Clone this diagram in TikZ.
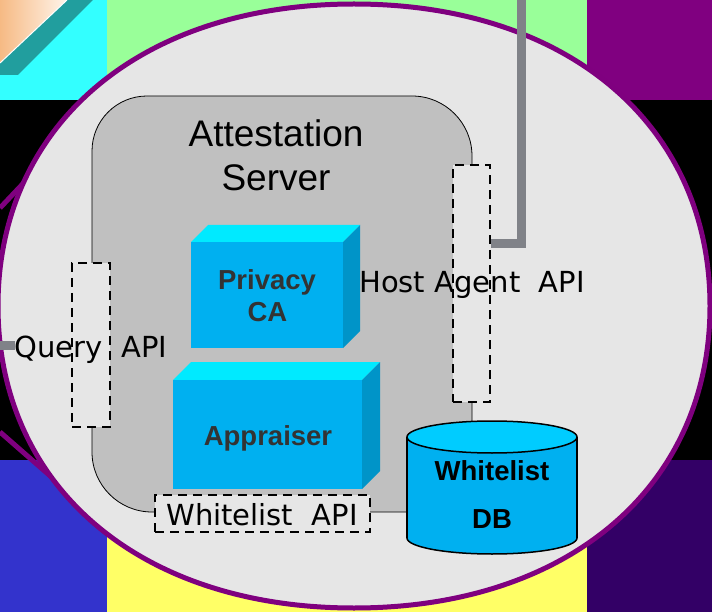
\documentclass[tikz,border=0pt]{standalone}
\usepackage{fontspec}
\setmainfont{Liberation Sans}
\newfontfamily\apifont{DejaVu Sans}
\definecolor{tilecyan}{HTML}{33FFFF}
\definecolor{tilegreen}{HTML}{99FF99}
\definecolor{tilepurple}{HTML}{800080}
\definecolor{tileblue}{HTML}{3333CC}
\definecolor{tileyellow}{HTML}{FFFF66}
\definecolor{tiledark}{HTML}{330066}
\definecolor{peach}{HTML}{F6BA84}
\definecolor{peachlight}{HTML}{FFF4EA}
\definecolor{stripe}{HTML}{219E9E}
\definecolor{ringline}{HTML}{7F007F}
\definecolor{ringfill}{HTML}{E6E6E6}
\definecolor{serverfill}{HTML}{C0C0C0}
\definecolor{cubetop}{HTML}{00EAFF}
\definecolor{cubefront}{HTML}{00B0F0}
\definecolor{cubeside}{HTML}{0094C8}
\definecolor{dbtop}{HTML}{00CCFF}
\definecolor{linkgray}{HTML}{808288}
\definecolor{cubetext}{HTML}{333333}
\begin{document}
\begin{tikzpicture}[x=1pt,y=-1pt,
  apibox/.style={draw=black, line width=1.8pt, dash pattern=on 9pt off 6pt,
    fill=ringfill, inner sep=0pt},
  apilabel/.style={inner sep=0pt, anchor=base, font=\apifont\fontsize{29}{34}\selectfont},
  cubelabel/.style={inner sep=0pt, anchor=base, text=cubetext,
    font=\bfseries\fontsize{27.5}{32}\selectfont},
  frontface/.style={fill=cubefront, inner sep=0pt},
  link/.style={draw=linkgray, line width=9pt},
  titlefont/.style={inner sep=0pt, anchor=base, font=\fontsize{37}{44}\selectfont},
  dblabel/.style={inner sep=0pt, anchor=base, font=\bfseries\fontsize{27.5}{32}\selectfont}]
\useasboundingbox (0,0) rectangle (712,612);

% background tiles
\fill[black] (0,0) rectangle (712,612);
\fill[tilecyan] (0,0) rectangle (107,100);
\fill[tilegreen] (107,0) rectangle (587,100);
\fill[tilepurple] (587,0) rectangle (712,100);
\fill[tileblue] (0,460) rectangle (107,612);
\fill[tileyellow] (107,460) rectangle (587,612);
\fill[tiledark] (587,460) rectangle (712,612);

% corner ornament
\shade[left color=peach, right color=peachlight] (0,0) -- (67,0) -- (0,63) -- cycle;
\fill[stripe] (67,0) -- (93,0) -- (18,75) -- (0,75) -- (0,63) -- cycle;
\draw[white, line width=1pt] (67,0) -- (0,63);

% second outline, visible only at the left
\draw[ringline, line width=5pt] (0,208) -- (34,172);
\draw[ringline, line width=5pt] (0,432) -- (80,502);

% the large oval
\draw[ringline, line width=5pt, fill=ringfill]
  (710,306) .. controls (710,124.8) and (567.6,4) .. (354,4)
            .. controls (140.4,4) and (-2,124.8) .. (-2,306)
            .. controls (-2,487.2) and (140.4,608) .. (354,608)
            .. controls (567.6,608) and (710,487.2) .. (710,306) -- cycle;

% attestation server region
\draw[black, line width=0.8pt, fill=serverfill]
  (92,151) .. controls (92,120.6) and (116.6,96) .. (147,96)
  -- (412,96) .. controls (445.1,96) and (472,122.9) .. (472,156)
  -- (472,512) -- (152,512)
  .. controls (118.9,512) and (92,485.1) .. (92,452) -- cycle;

\node[titlefont] (title1) at (276,147) {Attestation};
\node[titlefont] (title2) at (276,191) {Server};

% Privacy CA block
\fill[cubetop] (191,242) -- (208,225) -- (360,225) -- (343,242) -- cycle;
\fill[cubeside] (343,242) -- (360,225) -- (360,331) -- (343,348) -- cycle;
\node[frontface, minimum width=152pt, minimum height=106pt] (privacy) at (267,295) {};
\node[cubelabel] (privacy1) at (267,290) {Privacy};
\node[cubelabel] (privacy2) at (267.5,322) {CA};

% Appraiser block
\fill[cubetop] (173,380) -- (191,362) -- (380,362) -- (362,380) -- cycle;
\fill[cubeside] (362,380) -- (380,362) -- (380,471) -- (362,489) -- cycle;
\node[frontface, minimum width=189pt, minimum height=109pt] (appraiser) at (267.5,434.5) {};
\node[cubelabel] (appraiser1) at (268,445) {Appraiser};

% Whitelist DB cylinder
\fill[cubefront] (492,538) ellipse [x radius=85, y radius=16];
\fill[cubefront] (407,437) rectangle (577,538);
\begin{scope}
  \clip (400,538) rectangle (590,560);
  \draw[line width=1.5pt] (492,538) ellipse [x radius=85, y radius=16];
\end{scope}
\draw[line width=1.5pt] (407,437) -- (407,538) (577,437) -- (577,538);
\draw[line width=1.5pt, fill=dbtop] (492,437) ellipse [x radius=85, y radius=16];
\node[dblabel] (dbname1) at (492,480) {Whitelist};
\node[dblabel] (dbname2) at (492,528) {DB};

% interface boxes
\node[apibox, minimum width=38pt, minimum height=164pt] (querybox) at (91,345) {};
\node[apibox, minimum width=37pt, minimum height=237pt] (hostbox) at (471.5,283.5) {};
\node[apibox, minimum width=215pt, minimum height=37pt] (wlbox) at (262.5,513.5) {};

\node[apilabel] (querytext) at (91,357) {Query\ \ API};
\node[apilabel] (hosttext) at (472,293) {Host Agent\ \ API};
\node[apilabel] (wltext) at (262,525) {Whitelist\ \ API};

% external links
\coordinate (queryend) at (0,345);
\coordinate (hostbend) at (521,244);
\coordinate (hostend) at (521,0);
\draw[link] (queryend) -- (queryend -| querytext.west);
\draw[link] (hostbox.east |- hostbend) -- (hostbend) -- (hostend);
\end{tikzpicture}
\end{document}
